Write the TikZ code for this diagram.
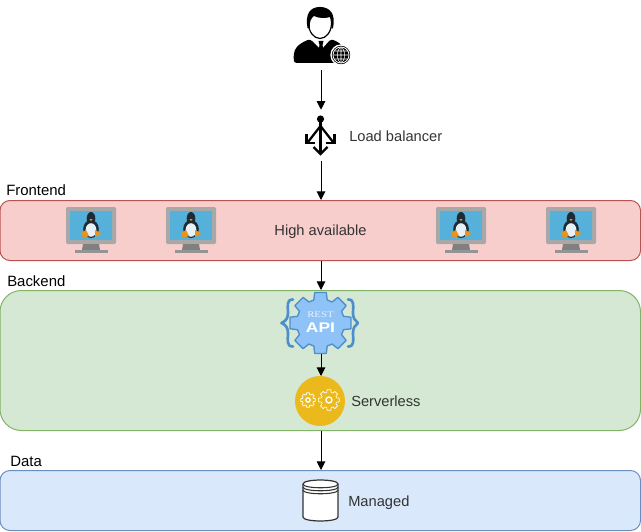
\documentclass[tikz,border=0pt]{standalone}
\usepackage{fontspec}
\setmainfont{Liberation Sans}
\newfontfamily\restfont{Liberation Serif}
\usetikzlibrary{arrows.meta}
\definecolor{txt}{HTML}{333333}
\definecolor{gblue}{HTML}{8FC2F7}
\definecolor{gbluedark}{HTML}{4C8FCB}
\definecolor{redline}{HTML}{B85450}
\definecolor{redfill}{HTML}{F8CECC}
\definecolor{greenline}{HTML}{82B366}
\definecolor{greenfill}{HTML}{D5E8D4}
\definecolor{blueline}{HTML}{6C8EBF}
\definecolor{bluefill}{HTML}{DAE8FC}
\definecolor{screenblue}{HTML}{55B1D9}
\definecolor{tuxdark}{HTML}{202A32}
\definecolor{tuxbelly}{HTML}{E8F2F6}
\definecolor{tuxorange}{HTML}{E8941E}
\definecolor{srvyellow}{HTML}{ECB91C}
\newcommand{\gearshape}[2]{({-0.36*45}:#1) \foreach \k in {0,...,7} { -- ({(\k-0.36)*45}:#1) -- ({(\k-0.24)*45}:#2) -- ({(\k+0.24)*45}:#2) -- ({(\k+0.36)*45}:#1)} -- cycle}
\tikzset{
  x=0.75pt,y=-0.75pt,
  conn/.style={draw=black,line width=0.75pt,-{Triangle[length=6.5pt,width=6.5pt]}},
  band/.style={draw=#1,line width=0.75pt},
  lbl/.style={font=\fontsize{11pt}{12pt}\selectfont,text=txt,inner sep=0pt},
  head/.style={font=\fontsize{11.2pt}{12pt}\selectfont,text=black,inner sep=0pt},
  monitor/.pic={
    \fill[fill=black!34,rounded corners=1pt] (-25,-23) rectangle (25,14);
    \fill[fill=black!50] (-8,14) -- (8,14) -- (9,20) -- (-9,20) -- cycle;
    \fill[fill=black!42] (-16,20) rectangle (17,23);
    \fill[fill=screenblue] (-21,-19) rectangle (21,10);
    \fill[fill=yellow!70!black] (0,-21) circle (0.8);
    \fill[fill=tuxdark] (0,-11.5) ellipse (4.3 and 6.5);
    \fill[fill=tuxdark] (0,-1) ellipse (7.8 and 9);
    \fill[fill=tuxbelly] (0,0) ellipse (5.4 and 6.8);
    \fill[fill=tuxorange] (-10,3) -- (-5,0) -- (-2,6) -- (-5,7) -- (-9,6.5) -- cycle;
    \fill[fill=tuxorange] (11,3.5) -- (4,0) -- (4,7) -- cycle;
    \fill[fill=tuxorange] (-1.6,-11) -- (1.6,-11) -- (0,-9) -- cycle;
  },
  gearicon/.pic={
    \draw[draw=white,line width=0.5pt] \gearshape{5.6}{7.4};
    \draw[draw=white,line width=1pt] (0,0) circle (2.2);
  }
}
\begin{document}
\begin{tikzpicture}[line join=round]
\useasboundingbox (0,0) rectangle (641,531);
% bands
\filldraw[band=redline,fill=redfill,rounded corners=7.5pt] (0,200.5) rectangle (640.5,260.5);
\filldraw[band=greenline,fill=greenfill,rounded corners=16pt] (0,290.5) rectangle (640.5,430.5);
\filldraw[band=blueline,fill=bluefill,rounded corners=7.5pt] (0,470.5) rectangle (640.5,530.5);

% anchors for connectors
\node[inner sep=0pt,minimum width=40pt,minimum height=46.5pt] (user) at (321,39) {};
\node[inner sep=0pt,minimum width=24pt,minimum height=38.25pt] (lb) at (321,135.5) {};
\node[circle,inner sep=0pt,minimum size=37.5pt,fill=srvyellow] (srv) at (320,401) {};

% user
\fill[black,rounded corners=2pt] (294,63) .. controls (293,50) and (296,45) .. (310,39) -- (321,50) -- (331,39) .. controls (343,44) and (347,50) .. (346,63) -- cycle;
\fill[white] (311.5,38) -- (319,47) -- (323,47) -- (330.5,38) -- (326,35) -- (316,35) -- cycle;
\fill[black] (318.5,41) -- (323.5,41) -- (322.5,45) -- (324.5,56) -- (321,60) -- (317.5,56) -- (319.5,45) -- cycle;
\draw[line width=0.9pt,fill=white] (320,23) ellipse (11.5 and 15.5);
\fill[black] (320,7) .. controls (310,7) and (305,14) .. (307.5,28) -- (310,29) .. controls (309,22) and (311,18) .. (314,16) .. controls (320,19) and (327,18) .. (330,17) .. controls (332,20) and (332,24) .. (331.5,29) -- (333,28) .. controls (336,14) and (330,7) .. (320,7) -- cycle;
\filldraw[draw=white,line width=1pt,fill=black] (341,55) circle (10);
\draw[white,line width=0.6pt,fill=black] (341,55) circle (8);
\draw[white,line width=0.4pt] (341,55) ellipse (3.5 and 7.5) (341,47.5) -- (341,62.5) (333.5,55) -- (348.5,55) (334.5,51) -- (347.5,51) (334.5,59) -- (347.5,59);

% load balancer
\fill[black] (320.5,119) circle (3.6);
\draw[black,line width=1.7pt,line cap=butt] (320.5,119) -- (320.5,153);
\draw[black,line width=1.7pt] (320.5,126) -- (308,142) (320.5,126) -- (333,142);
\draw[black,line width=1.7pt,line join=miter] (313.5,147) -- (320.5,154) -- (327.5,147);
\draw[black,line width=1.7pt,line join=miter] (306.5,134) -- (306.5,143) -- (315,143);
\draw[black,line width=1.7pt,line join=miter] (334.5,134) -- (334.5,143) -- (326,143);
\node[lbl,anchor=west] (lbt) at (349,136) {Load balancer};

% frontend
\node[head,anchor=base west] (ft) at (6,195) {Frontend};
\pic at (91,230) {monitor};
\pic at (191,230) {monitor};
\pic at (461,230) {monitor};
\pic at (571,230) {monitor};
\node[lbl] (ha) at (320.5,231.5) {High available};

% backend
\node[head,anchor=base west] (bt) at (7,286) {Backend};
\draw[draw=gbluedark,line width=2pt,line cap=round] (293,299.5) .. controls (286,299.5) and (288,306) .. (288,313) .. controls (288,318) and (286,321) .. (281.5,323) .. controls (286,325) and (288,328) .. (288,333) .. controls (288,340) and (286,346.5) .. (293,346.5);
\draw[draw=gbluedark,line width=2pt,line cap=round] (348,299.5) .. controls (355,299.5) and (353,306) .. (353,313) .. controls (353,318) and (355,321) .. (358,323) .. controls (355,325) and (353,328) .. (353,333) .. controls (353,340) and (355,346.5) .. (348,346.5);
\filldraw[draw=gbluedark,fill=gblue,line width=1pt,shift={(320.5,323)}] \gearshape{24}{31};
\node[inner sep=0pt,text=white!80!gblue,font=\restfont\fontsize{6.5pt}{8pt}\selectfont,xscale=1.25] (rest) at (320.5,314.5) {REST};
\node[inner sep=0pt,text=white,font=\bfseries\fontsize{10.5pt}{12pt}\selectfont,xscale=1.25] (apit) at (320.5,327.5) {API};
\pic at (308,400) {gearicon};
\pic[scale=1.4] at (329,400) {gearicon};
\node[lbl,anchor=west] (st) at (351,401) {Serverless};

% data
\node[head,anchor=base west] (dt) at (10,466) {Data};
\filldraw[draw=black!80,fill=white,line width=0.9pt] (303,484) -- (303,517) .. controls (303,522.3) and (338,522.3) .. (338,517) -- (338,484) .. controls (338,478.7) and (303,478.7) .. (303,484) -- cycle;
\draw[draw=black!80,line width=0.8pt] (303,484) .. controls (303,489) and (338,489) .. (338,484);
\draw[draw=black!80,line width=0.8pt] (303,487) .. controls (303,492) and (338,492) .. (338,487);
\draw[draw=black!80,line width=0.8pt] (303,490) .. controls (303,495) and (338,495) .. (338,490);
\node[lbl,anchor=west] (mt) at (348,503) {Managed};

% connectors
\coordinate (lbout) at (321,161);
\coordinate (fin) at (321,200);
\coordinate (fout) at (321,261);
\coordinate (bin) at (321,290);
\coordinate (apis) at (321,354);
\coordinate (srvin) at (321,376);
\coordinate (bout) at (321,431);
\coordinate (din) at (321,470);
\draw[conn] (user.south) -- (lb.north);
\draw[conn] (lbout) -- (fin);
\draw[conn] (fout) -- (bin);
\draw[conn] (apis) -- (srvin);
\draw[conn] (bout) -- (din);
\end{tikzpicture}
\end{document}
